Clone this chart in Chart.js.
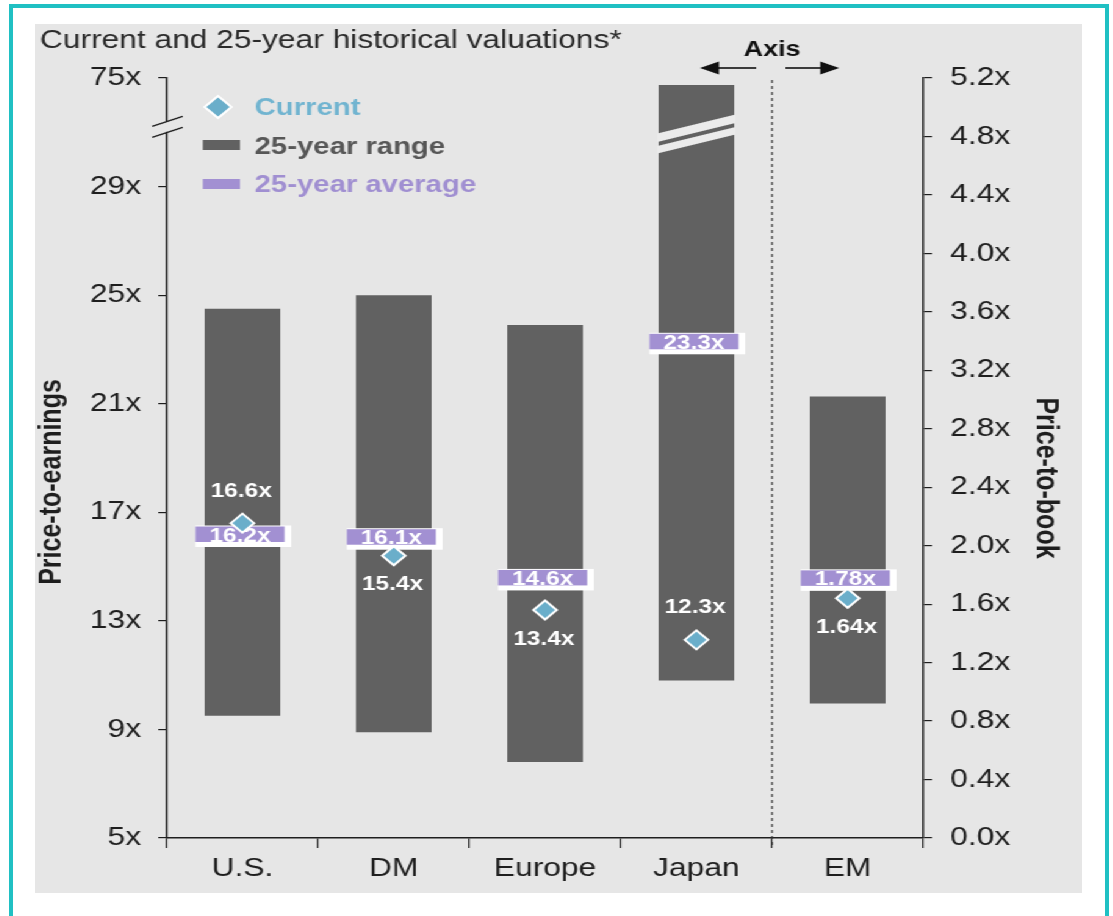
<!DOCTYPE html>
<html>
<head>
<meta charset="utf-8">
<title>Current and 25-year historical valuations</title>
<script src="https://cdn.jsdelivr.net/npm/chart.js@4.4.1/dist/chart.umd.min.js"></script>
<style>
  html, body { margin: 0; padding: 0; background: #fff; }
  body { width: 1113px; height: 916px; position: relative; overflow: hidden; }
  #frame { position: absolute; left: 9px; top: 4px; width: 1100px; height: 940px; box-sizing: border-box; border: 4px solid #20c0c3; }
  /* the original is stretched sideways, so the panel is drawn narrow and widened */
  #panel { position: absolute; left: 35px; top: 24px; width: 858px; height: 869px; background: #e6e6e6; transform: scaleX(1.22028); transform-origin: 0 0; }
</style>
</head>
<body>
<div id="frame"></div>
<div id="panel"><canvas id="valuationChart"></canvas></div>
<script>
// EM is read on the right (price-to-book) axis, the rest on price-to-earnings
const categories = ['U.S.', 'DM', 'Europe', 'Japan', 'EM'];
const axisFor = ['pe', 'pe', 'pe', 'pe', 'pb'];
const rangeLow = [9.5, 8.9, 7.8, 10.8, 0.92];
const rangeHigh = [24.5, 25.0, 23.9, 72.0, 3.02];
const average = [16.2, 16.1, 14.6, 23.3, 1.78];
const current = [16.6, 15.4, 13.4, 12.3, 1.64];
const currentLabelSide = ['above', 'below', 'below', 'above', 'below'];
const peTicks = [5, 9, 13, 17, 21, 25, 29, 75];
const pbTicks = [0.0, 0.4, 0.8, 1.2, 1.6, 2.0, 2.4, 2.8, 3.2, 3.6, 4.0, 4.4, 4.8, 5.2];

const FONT = "'Liberation Sans', Arial, sans-serif";
const PANEL = '#e6e6e6';
const INK = '#1e1e1e';
const BAR = '#616161';
const PURPLE = '#a290d2';
const BLUE = '#6aaeca';

// left axis is broken above 29x: 29x..75x is squeezed into one 4-point step
const brk = v => v <= 29 ? v : 29 + (v - 29) * 4 / 46;
const pick = (arr, axis, fn) => arr.map((v, i) => axisFor[i] === axis ? fn(v, i) : null);
const fmt = (v, axis) => v.toFixed(axis === 'pb' ? 2 : 1) + 'x';

function drawAverageBoxes(chart, meta, ds) {
    const ctx = chart.ctx;
    const axis = meta.yAxisID === 'y1' ? 'pb' : 'pe';
    meta.data.forEach((pt, i) => {
        if (ds.data[i] == null) return;
        ctx.save();
        ctx.fillStyle = '#fff';
        ctx.fillRect(pt.x - 38.5, pt.y - 8.5, 78.5, 21.5);
        ctx.fillStyle = PURPLE;
        ctx.fillRect(pt.x - 38.5, pt.y - 7.5, 73, 15.5);
        ctx.fillStyle = '#fff';
        ctx.font = `bold 20px ${FONT}`;
        ctx.textAlign = 'center';
        ctx.textBaseline = 'middle';
        ctx.fillText(fmt(ds.data[i], axis), pt.x - 2, pt.y + 2);
        ctx.restore();
    });
}

function arrow(ctx, from, to, y) {
    const dir = Math.sign(to - from);
    ctx.beginPath();
    ctx.moveTo(from, y);
    ctx.lineTo(to - dir * 14, y);
    ctx.stroke();
    ctx.beginPath();
    ctx.moveTo(to, y);
    ctx.lineTo(to - dir * 15.5, y - 6.5);
    ctx.lineTo(to - dir * 15.5, y + 6.5);
    ctx.closePath();
    ctx.fill();
}

const decor = {
    id: 'decor',
    afterDatasetDraw(chart, args) {
        const ds = chart.data.datasets[args.index];
        if (ds.label.startsWith('25-year average')) drawAverageBoxes(chart, args.meta, ds);
    },
    afterDraw(chart) {
        const { ctx, chartArea: ca, scales } = chart;
        const x = scales.x, y = scales.y;
        ctx.save();

        // title
        ctx.fillStyle = '#2a2a2a';
        ctx.font = `26px ${FONT}`;
        ctx.textAlign = 'left';
        ctx.textBaseline = 'middle';
        ctx.fillText('Current and 25-year historical valuations*', 4, 17);

        // axis titles
        ctx.fillStyle = INK;
        ctx.font = `bold 25px ${FONT}`;
        ctx.textAlign = 'center';
        ctx.save();
        ctx.translate(ca.left - 94, ca.top + 404);
        ctx.rotate(-Math.PI / 2);
        ctx.fillText('Price-to-earnings', 0, 0);
        ctx.restore();
        ctx.save();
        ctx.translate(ca.right + 100, ca.top + 400);
        ctx.rotate(Math.PI / 2);
        ctx.fillText('Price-to-book', 0, 0);
        ctx.restore();

        // labels next to the current-value diamonds
        ctx.fillStyle = '#fff';
        ctx.font = `bold 20px ${FONT}`;
        chart.data.datasets.forEach((ds, di) => {
            if (!ds.label.startsWith('Current')) return;
            const meta = chart.getDatasetMeta(di);
            const axis = meta.yAxisID === 'y1' ? 'pb' : 'pe';
            meta.data.forEach((pt, i) => {
                if (ds.data[i] == null) return;
                const dy = currentLabelSide[i] === 'above' ? -32 : 29;
                ctx.fillText(fmt(ds.data[i], axis), pt.x - 1, pt.y + dy);
            });
        });

        // break in the Japan bar
        const jb = chart.getDatasetMeta(0).data[3];
        const yc = y.getPixelForValue(30.92);
        const xl = jb.x - jb.width / 2 - 1, xr = jb.x + jb.width / 2 + 1;
        const yl = yc + 9.5, yr = yc - 9.5;
        ctx.fillStyle = '#ebebeb';
        [[-10.5, -2], [2, 9.5]].forEach(([a, b]) => {
            ctx.beginPath();
            ctx.moveTo(xl, yl + a);
            ctx.lineTo(xr, yr + a);
            ctx.lineTo(xr, yr + b);
            ctx.lineTo(xl, yl + b);
            ctx.closePath();
            ctx.fill();
        });

        // break in the left axis
        const ax = ca.left;
        const yb = y.getPixelForValue(31.2);
        ctx.fillStyle = PANEL;
        ctx.fillRect(ax - 3, yb - 5, 6, 10);
        ctx.strokeStyle = INK;
        ctx.lineWidth = 1.3;
        [[-5.5], [5.5]].forEach(([off]) => {
            ctx.beginPath();
            ctx.moveTo(ax - 12, yb + off + 5);
            ctx.lineTo(ax + 13, yb + off - 5);
            ctx.stroke();
        });

        // dashed separator between the two axes
        const sx = (x.getPixelForValue(3) + x.getPixelForValue(4)) / 2;
        ctx.strokeStyle = '#333';
        ctx.lineWidth = 1.2;
        ctx.setLineDash([3, 3]);
        ctx.beginPath();
        ctx.moveTo(sx, ca.top + 2);
        ctx.lineTo(sx, ca.bottom + 10);
        ctx.stroke();
        ctx.setLineDash([]);

        // "Axis" marker
        ctx.fillStyle = '#111';
        ctx.strokeStyle = '#111';
        ctx.lineWidth = 1.6;
        ctx.font = `bold 22px ${FONT}`;
        ctx.textAlign = 'center';
        ctx.fillText('Axis', sx, ca.top - 28);
        arrow(ctx, sx - 13, sx - 59, ca.top - 10);
        arrow(ctx, sx + 11, sx + 55, ca.top - 10);

        // legend
        const lx = ca.left + 29.5, tx = ca.left + 72;
        const rows = [ca.top + 29, ca.top + 68, ca.top + 106];
        ctx.fillStyle = BLUE;
        ctx.strokeStyle = '#fff';
        ctx.lineWidth = 2;
        ctx.beginPath();
        ctx.moveTo(ca.left + 42, rows[0] - 11);
        ctx.lineTo(ca.left + 53, rows[0]);
        ctx.lineTo(ca.left + 42, rows[0] + 11);
        ctx.lineTo(ca.left + 31, rows[0]);
        ctx.closePath();
        ctx.fill();
        ctx.stroke();
        ctx.fillStyle = BAR;
        ctx.fillRect(lx, rows[1] - 6, 30.5, 10);
        ctx.fillStyle = PURPLE;
        ctx.fillRect(lx, rows[2] - 5, 30.5, 10);

        ctx.font = `bold 24px ${FONT}`;
        ctx.textAlign = 'left';
        [['Current', '#71b4d0'], ['25-year range', '#575757'], ['25-year average', '#a08fd1']].forEach(([t, c], i) => {
            ctx.fillStyle = c;
            ctx.fillText(t, tx, rows[i] + 1);
        });

        ctx.restore();
    }
};

const barStyle = { type: 'bar', backgroundColor: BAR, grouped: false, barPercentage: 0.5, categoryPercentage: 1, order: 3 };
const avgStyle = { type: 'line', showLine: false, pointRadius: 0, order: 2 };
const curStyle = {
    type: 'line', showLine: false, pointStyle: 'rectRot', pointRadius: 9.5,
    pointBackgroundColor: BLUE, pointBorderColor: '#fff', pointBorderWidth: 2, order: 1
};

const ctx = document.getElementById('valuationChart').getContext('2d');
new Chart(ctx, {
    data: {
        labels: categories,
        datasets: [
            { ...barStyle, label: '25-year range', yAxisID: 'y', data: pick(rangeLow, 'pe', (v, i) => [brk(v), brk(rangeHigh[i])]) },
            { ...barStyle, label: '25-year range (P/B)', yAxisID: 'y1', data: pick(rangeLow, 'pb', (v, i) => [v, rangeHigh[i]]) },
            { ...avgStyle, label: '25-year average', yAxisID: 'y', data: pick(average, 'pe', v => v) },
            { ...avgStyle, label: '25-year average (P/B)', yAxisID: 'y1', data: pick(average, 'pb', v => v) },
            { ...curStyle, label: 'Current', yAxisID: 'y', data: pick(current, 'pe', v => v) },
            { ...curStyle, label: 'Current (P/B)', yAxisID: 'y1', data: pick(current, 'pb', v => v) }
        ]
    },
    options: {
        responsive: true,
        maintainAspectRatio: false,
        animation: false,
        events: [],
        layout: { padding: { top: 54, left: 0, right: 0, bottom: 0 } },
        plugins: {
            legend: { display: false },
            tooltip: { enabled: false }
        },
        scales: {
            x: {
                type: 'category',
                offset: true,
                grid: { offset: true, drawOnChartArea: false, tickLength: 10, color: INK, lineWidth: 1.2 },
                border: { color: INK, width: 1.5 },
                ticks: { font: { family: FONT, size: 26 }, color: INK, padding: 5 },
                afterFit: s => { s.height = 55; }
            },
            y: {
                position: 'left',
                min: 5,
                max: 33,
                afterBuildTicks: s => { s.ticks = peTicks.map(v => ({ value: brk(v) })); },
                ticks: { callback: (v, i) => peTicks[i] + 'x', font: { family: FONT, size: 26 }, color: INK, padding: 14 },
                grid: { drawOnChartArea: false, tickLength: 7, color: INK, lineWidth: 1.2 },
                border: { color: INK, width: 1.5 },
                afterFit: s => { s.width = 108; }
            },
            y1: {
                position: 'right',
                min: 0,
                max: 5.2,
                afterBuildTicks: s => { s.ticks = pbTicks.map(v => ({ value: v })); },
                ticks: { callback: (v, i) => pbTicks[i].toFixed(1) + 'x', font: { family: FONT, size: 26 }, color: INK, padding: 15 },
                grid: { drawOnChartArea: false, tickLength: 7, color: INK, lineWidth: 1.2 },
                border: { color: INK, width: 1.5 },
                afterFit: s => { s.width = 130; }
            }
        }
    },
    plugins: [decor]
});
</script>
</body>
</html>
